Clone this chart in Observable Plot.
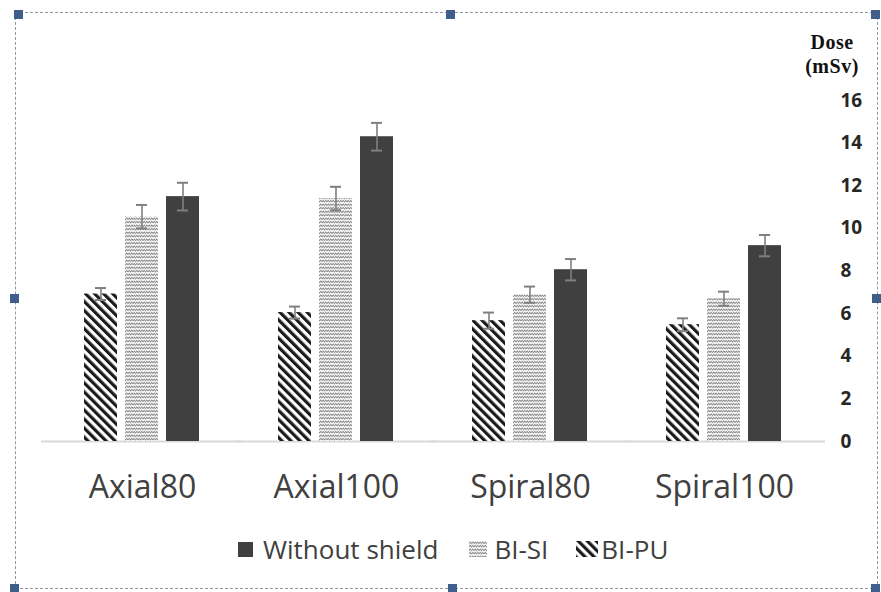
<!DOCTYPE html>
<html>
<head>
<meta charset="utf-8">
<script src="https://cdn.jsdelivr.net/npm/d3@7"></script>
<script src="https://cdn.jsdelivr.net/npm/@observablehq/plot@0.6"></script>
<style>
html,body{margin:0;padding:0;background:#fff;}
#wrap{position:relative;width:881px;height:592px;overflow:hidden;font-family:"Open Sans",sans-serif;}
#chart{position:absolute;left:0;top:0;}
#frame{position:absolute;left:15px;top:12px;width:863px;height:577px;border:1px dashed #8f98a8;box-sizing:border-box;}
.h{position:absolute;width:9px;height:9px;background:#3f5f8a;}
#title{position:absolute;left:792px;width:80px;top:30px;text-align:center;font-family:"Liberation Serif","DejaVu Serif",serif;font-weight:bold;font-size:20px;line-height:24px;letter-spacing:0.5px;color:#111;}
#legend{position:absolute;top:531px;left:238px;height:36px;display:flex;align-items:center;font-size:26px;color:#404040;white-space:nowrap;}
#legend svg{display:block;}
</style>
</head>
<body>
<div id="wrap">
  <div id="frame"></div>
  <div class="h" style="left:14px;top:10px"></div>
  <div class="h" style="left:446px;top:10px"></div>
  <div class="h" style="left:871px;top:10px"></div>
  <div class="h" style="left:10px;top:294px"></div>
  <div class="h" style="left:872px;top:294px"></div>
  <div class="h" style="left:10px;top:584px"></div>
  <div class="h" style="left:448px;top:584px"></div>
  <div class="h" style="left:871px;top:584px"></div>
  <div id="chart"></div>
  <div id="title">Dose<br>(mSv)</div>
  <div id="legend"></div>
</div>
<script>
const categories = ["Axial80", "Axial100", "Spiral80", "Spiral100"];
const series = ["BI-PU", "BI-SI", "Without shield"];
const legendOrder = ["Without shield", "BI-SI", "BI-PU"];
const valuesPU = [6.92, 6.05, 5.67, 5.48];
const valuesSI = [10.55, 11.4, 6.89, 6.7];
const valuesWithout = [11.49, 14.3, 8.06, 9.19];
const errPU = [0.28, 0.28, 0.38, 0.3];
const errSI = [0.55, 0.55, 0.38, 0.33];
const errWithout = [0.65, 0.65, 0.5, 0.5];
const yTicks = [0, 2, 4, 6, 8, 10, 12, 14, 16];

const fills = {"BI-PU": "url(#pat-pu)", "BI-SI": "url(#pat-si)", "Without shield": "#404040"};

const table = [];
[[valuesPU, errPU], [valuesSI, errSI], [valuesWithout, errWithout]].forEach(([v, e], si) =>
  categories.forEach((c, ci) => table.push({category: c, series: series[si], value: v[ci], err: e[ci]})));

function build(useSuper) {
  const base = {
    width: 881, height: 510,
    marginLeft: 40, marginRight: 56, marginTop: 100, marginBottom: 69,
    style: {background: "transparent", fontFamily: "'Open Sans', sans-serif", overflow: "visible"},
    fx: {domain: categories, paddingInner: 0.392, paddingOuter: 0.219, axis: null},
    x: {domain: series, paddingInner: 0.19, paddingOuter: 0, axis: null},
    y: {domain: [0, 16], axis: null},
    marks: [
      useSuper
        ? Plot.ruleY([0], {stroke: "#d9d9d9", strokeWidth: 2, facet: "super"})
        : Plot.ruleY([0], {stroke: "#d9d9d9", strokeWidth: 2, insetLeft: -42, insetRight: -42}),
      ...series.map(s => Plot.barY(table.filter(d => d.series === s), {fx: "category", x: "series", y: "value", fill: fills[s]})),
      Plot.ruleX(table, {fx: "category", x: "series", y1: d => d.value - d.err, y2: d => d.value + d.err, stroke: "#7f7f7f", strokeWidth: 1.6}),
      Plot.tickY(table, {fx: "category", x: "series", y: d => d.value + d.err, stroke: "#7f7f7f", strokeWidth: 2, insetLeft: 11, insetRight: 11}),
      Plot.tickY(table, {fx: "category", x: "series", y: d => d.value - d.err, stroke: "#7f7f7f", strokeWidth: 2, insetLeft: 11, insetRight: 11}),
      Plot.axisFx({anchor: "bottom", tickSize: 0, tickPadding: 34, fontSize: 32, color: "#404040", label: null}),
      useSuper
        ? Plot.axisY({anchor: "right", facet: "super", ticks: yTicks, tickSize: 0, tickPadding: 15, fontSize: 19, fontWeight: "bold", color: "#262626", label: null})
        : Plot.axisY({anchor: "right", ticks: yTicks, tickSize: 0, tickPadding: 57, fontSize: 19, fontWeight: "bold", color: "#262626", label: null})
    ]
  };
  return Plot.plot(base);
}

let chart;
try { chart = build(true); } catch (e) { chart = build(false); }

const svg = d3.select(chart);
const defs = svg.insert("defs", ":first-child");
const pu = defs.append("pattern").attr("id", "pat-pu").attr("patternUnits", "userSpaceOnUse")
  .attr("width", 6.4).attr("height", 6.4).attr("patternTransform", "rotate(-45)");
pu.append("rect").attr("width", 6.4).attr("height", 6.4).attr("fill", "#fff");
pu.append("rect").attr("width", 3.2).attr("height", 6.4).attr("fill", "#1a1a1a");
const si = defs.append("pattern").attr("id", "pat-si").attr("patternUnits", "userSpaceOnUse")
  .attr("width", 5).attr("height", 3.5);
si.append("rect").attr("width", 5).attr("height", 3.5).attr("fill", "#fff");
si.append("path").attr("d", "M0,2.6 L1.25,0.9 L2.5,2.6 L3.75,0.9 L5,2.6").attr("stroke", "#777").attr("stroke-width", 0.9).attr("fill", "none");

document.getElementById("chart").appendChild(chart);

// legend
const legend = d3.select("#legend");
const swatch = {"Without shield": [15, 15, 10], "BI-SI": [18, 16, 7], "BI-PU": [22, 16, 3]};
legendOrder.forEach((s, i) => {
  const [w, h, gap] = swatch[s];
  const item = legend.append("div").style("display", "flex").style("align-items", "center")
    .style("margin-right", i === 0 ? "31px" : i === 1 ? "28px" : "0px");
  item.append("svg").attr("width", w).attr("height", h).style("margin-right", gap + "px")
    .append("rect").attr("width", w).attr("height", h).attr("fill", fills[s]);
  item.append("span").text(s);
});
</script>
</body>
</html>
